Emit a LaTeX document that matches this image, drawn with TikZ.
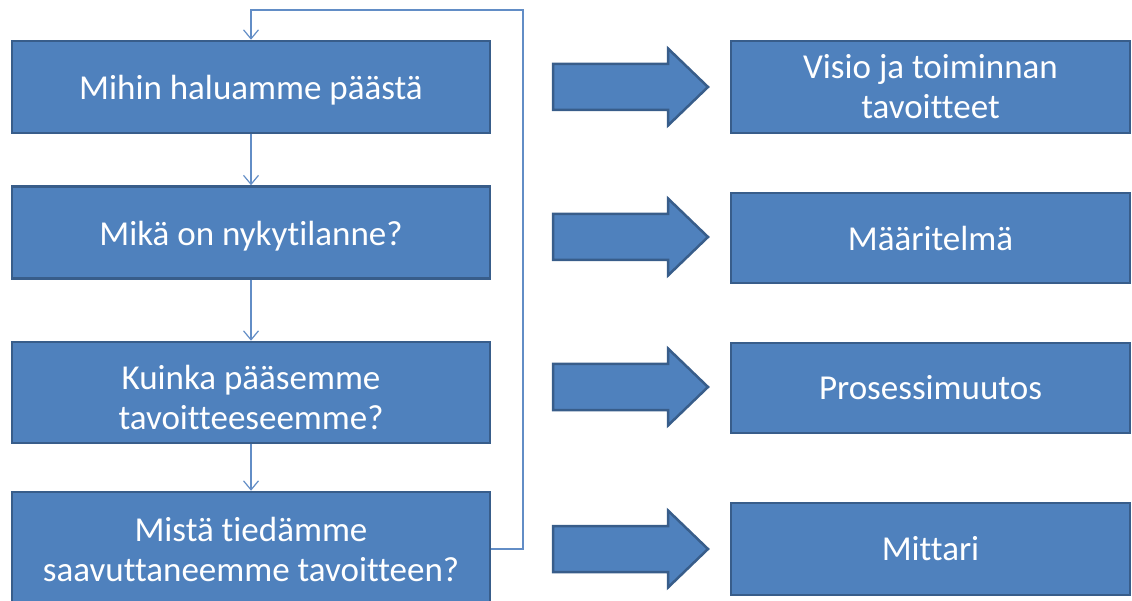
\documentclass[tikz,border=0pt]{standalone}
\usepackage{fontspec}
\setmainfont{Carlito}[Ligatures={NoCommon}]
\usetikzlibrary{arrows.meta,calc}
\definecolor{boxfill}{HTML}{4F81BD}
\definecolor{boxline}{HTML}{385D8A}
\definecolor{flowline}{HTML}{628DC6}
\tikzset{
  stepbox/.style={draw=boxline, line width=2.5pt, fill=boxfill, text=white,
    align=center, inner sep=0pt, font=\fontsize{35}{40}\selectfont},
  leftbox/.style={stepbox, minimum width=478pt, minimum height=92pt},
  rightbox/.style={stepbox, minimum width=399pt, minimum height=92pt},
  flow/.style={draw=flowline, line width=1.2pt, -{Straight Barb[length=9pt,width=15pt,line width=1.2pt]}},
  bigarrow/.style={draw=boxline, line width=2.5pt, fill=boxfill, line join=miter}
}
\newcommand{\bigarr}[1]{%
  \draw[bigarrow] ($(#1)+(0,-23)$) -- ++(115,0) -- ++(0,-15.5) -- ($(#1)+(155,0)$)
    -- ($(#1)+(115,38.5)$) -- ++(0,-15.5) -- ($(#1)+(0,23)$) -- cycle;}
\begin{document}
\begin{tikzpicture}[x=1pt,y=-1pt]
\useasboundingbox (0,0) rectangle (1132,601);
\begin{scope}
\clip (0,0) rectangle (1132,601);
\node[leftbox] (q1) at (251,87) {};
\node[text=white, font=\fontsize{35}{40}\selectfont] (q1t) at (251,90) {Mihin haluamme päästä};
\node[leftbox] (q2) at (251,232.5) {};
\node[text=white, font=\fontsize{35}{40}\selectfont] (q2t) at (251,236) {Mikä on nykytilanne?};
\node[leftbox, minimum height=101pt] (q3) at (251,392.5) {};
\node[text=white, align=center, font=\fontsize{35}{40}\selectfont] (q3t) at (251,397) {Kuinka pääsemme\\tavoitteeseemme?};
\node[leftbox, minimum height=120pt] (q4) at (251,552) {};
\node[text=white, align=center, font=\fontsize{35}{40}\selectfont] (q4t) at (251,549) {Mistä tiedämme\\saavuttaneemme tavoitteen?};

\node[rightbox] (a1) at (930.5,87) {Visio ja toiminnan\\tavoitteet};
\node[rightbox, minimum height=90pt] (a2) at (930.5,238) {Määritelmä};
\node[rightbox, minimum height=90pt] (a3) at (930.5,388) {Prosessimuutos};
\node[rightbox] (a4) at (930.5,549) {Mittari};

\coordinate (b1) at (553,87);
\coordinate (b2) at (553,237);
\coordinate (b3) at (553,387);
\coordinate (b4) at (553,549);
\bigarr{b1}
\bigarr{b2}
\bigarr{b3}
\bigarr{b4}

\draw[flow] (q1.south) -- (q2.north);
\draw[flow] (q2.south) -- (q3.north);
\draw[flow] (q3.south) -- (q4.north);
\coordinate (fbr) at (523,10);
\draw[flow] (q4.east |- q4t.center) -- (fbr |- q4t.center) -- (fbr) -- (q1.north |- fbr) -- (q1.north);
\end{scope}
\end{tikzpicture}
\end{document}
